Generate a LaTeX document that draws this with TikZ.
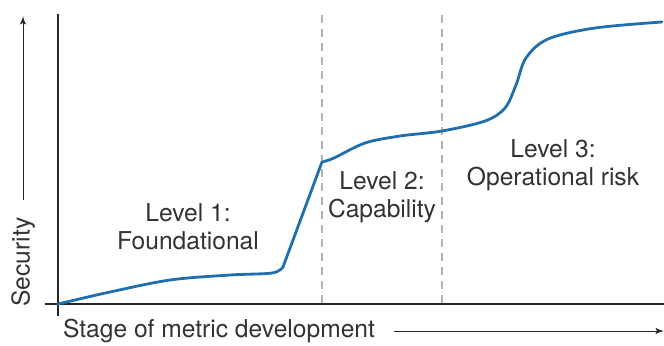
\documentclass[tikz,border=0pt]{standalone}
\usepackage{fontspec}
\setmainfont{TeX Gyre Heros}
\usetikzlibrary{positioning, arrows}
\definecolor{curveblue}{HTML}{1F6FAE}
\definecolor{textgray}{HTML}{333333}
\definecolor{dashgray}{HTML}{B4B4B4}

\begin{document}
\begin{tikzpicture}[>=latex', x=0.5pt, y=-0.5pt]
    \tikzset{axis/.style = {draw=black!85, line width=0.6pt},
             level/.style = {align=center, text=textgray, font=\fontsize{12.3}{14}\selectfont},
             divider/.style = {draw=dashgray, dashed, line width=0.7pt, dash pattern=on 4pt off 3pt},
             growth/.style = {draw=curveblue, line width=1.4pt, line cap=round, line join=round}
            }
    \useasboundingbox (0,0) rectangle (664,345);
    % axes
    \coordinate (ytop) at (58,14);
    \coordinate (ybot) at (58,316);
    \coordinate (xleft) at (45,304);
    \coordinate (xright) at (664,304);
    \draw[axis] (ytop) -- (ybot);
    \draw[axis] (xleft) -- (xright);
    % level boundaries
    \coordinate (div1top) at (322,15);
    \coordinate (div1bot) at (322,304);
    \coordinate (div2top) at (442,15);
    \coordinate (div2bot) at (442,304);
    \draw[divider] (div1top) -- (div1bot);
    \draw[divider] (div2top) -- (div2bot);
    % axis labels
    \node (security) [level, rotate=90] at (23,262) {Security};
    \coordinate (secfrom) at (23,200);
    \coordinate (secto) at (23,16);
    \draw[->, draw=black!85, line width=0.5pt] (secfrom) -- (secto);
    \node (stage) [level, anchor=west] at (56,331) {Stage of metric development};
    \coordinate (stageto) at (664,331);
    \draw[->, draw=black!85, line width=0.5pt] ([xshift=6pt]stage.east) -- (stageto);
    % curve
    \draw[growth] plot[smooth, tension=0.55] coordinates
        {(58,304) (110,292) (170,280) (230,275) (272,273) (283,267)}
        -- (322,162)
        plot[smooth, tension=0.55] coordinates
        {(322,162) (334,158) (365,143) (400,136) (442,131) (485,121) (505,108)
         (516,85) (526,58) (548,39) (595,28) (662,22)};
    % level labels
    \node (lvl1) [level] at (188,227) {Level 1:\\Foundational};
    \node (lvl2) [level] at (382,197) {Level 2:\\Capability};
    \node (lvl3) [level] at (553,165) {Level 3:\\Operational risk};
\end{tikzpicture}
\end{document}
